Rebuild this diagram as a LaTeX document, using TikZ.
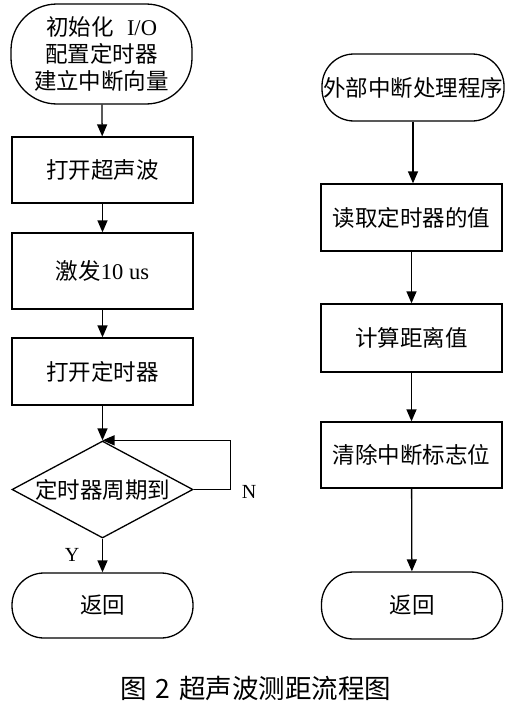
\documentclass[tikz,border=0pt]{standalone}
\usepackage{fontspec}
\setmainfont{Liberation Serif}
\newfontfamily\cjk{Noto Sans CJK SC}
\usetikzlibrary{arrows.meta,shapes.geometric,positioning}

\begin{document}
\begin{tikzpicture}[x=1pt,y=-1pt,line width=1.3pt,
  box/.style={draw, rectangle, minimum width=181pt, inner sep=0pt,
    align=center, font=\cjk\fontsize{22.5}{27}\selectfont},
  term/.style={box, rounded corners=32pt},
  cond/.style={draw, diamond, aspect=1.87, minimum width=181pt,
    minimum height=97pt, inner sep=0pt, font=\cjk\fontsize{22.5}{27}\selectfont},
  arr/.style={-{Triangle[length=12pt,width=10pt]}},
  yn/.style={font=\fontsize{20}{22}\selectfont}]
\useasboundingbox (0,0) rectangle (507,704);

% main routine
\node[term, minimum height=100pt, rounded corners=46pt] (init) at (101.5,54)
  {初始化\hspace{0.6em}{\rmfamily I/O}\\配置定时器\\建立中断向量};
\node[box, minimum height=66pt] (sonic) at (102.5,170) {打开超声波};
\node[box, minimum height=76pt] (pulse) at (102.5,271) {激发{\rmfamily 10 us}};
\node[box, minimum height=67pt] (timer) at (102.5,371.5) {打开定时器};
\node[cond] (due) at (102.5,489.5) {定时器周期到};
\node[term, minimum height=65pt] (ret1) at (102.5,605.5) {返回};

\draw[arr] (init) -- (sonic);
\draw[arr] (sonic) -- (pulse);
\draw[arr] (pulse) -- (timer);
\draw[arr] (timer) -- (due);
\draw[arr] (due.east) -- ++(37,0) |- (due.north);
\draw[arr] (due) -- (ret1);
\node[yn] (no) at (249,492) {N};
\node[yn] (yes) at (72,555) {Y};

% interrupt routine
\node[term, minimum height=67pt, minimum width=182pt] (isr) at (413,87.5) {外部中断处理程序};
\node[box, minimum height=67pt] (read) at (411.5,217.5) {读取定时器的值};
\node[box, minimum height=68pt] (calc) at (411.5,338) {计算距离值};
\node[box, minimum height=66pt] (clear) at (411.5,455) {清除中断标志位};
\node[term, minimum height=67pt] (ret2) at (412,605.5) {返回};

\draw[arr] (isr) -- (isr |- read.north);
\draw[arr] (read) -- (calc);
\draw[arr] (calc) -- (clear);
\draw[arr] (clear) -- (ret2);

\node[font=\cjk\fontsize{26.5}{30}\selectfont] (cap) at (256,688)
  {图\hspace{0.3em}2\hspace{0.35em}超声波测距流程图};
\end{tikzpicture}
\end{document}
